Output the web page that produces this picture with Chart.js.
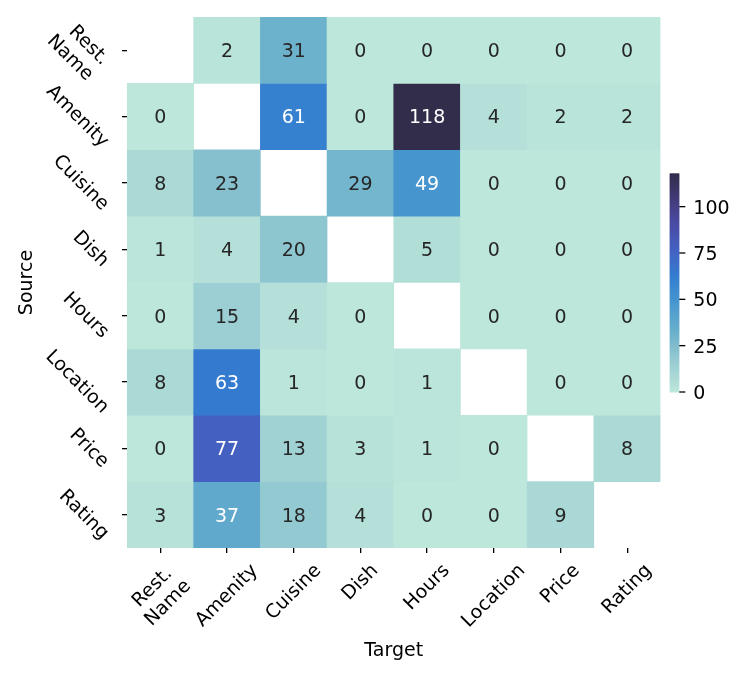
<!DOCTYPE html>
<html>
<head>
<meta charset="utf-8">
<script src="https://cdn.jsdelivr.net/npm/chart.js@4.4.1/dist/chart.umd.min.js"></script>
<style>
  html, body { margin: 0; padding: 0; background: #ffffff; }
  #wrap { width: 747px; height: 675px; }
</style>
</head>
<body>
<div id="wrap"><canvas id="c" width="747" height="675"></canvas></div>
<script>
// ---------------- DATA ----------------
const targets = ['Rest.\nName', 'Amenity', 'Cuisine', 'Dish', 'Hours', 'Location', 'Price', 'Rating'];
const sources = ['Rest.\nName', 'Amenity', 'Cuisine', 'Dish', 'Hours', 'Location', 'Price', 'Rating'];

const fromRestName = [null, 2, 31, 0, 0, 0, 0, 0];
const fromAmenity  = [0, null, 61, 0, 118, 4, 2, 2];
const fromCuisine  = [8, 23, null, 29, 49, 0, 0, 0];
const fromDish     = [1, 4, 20, null, 5, 0, 0, 0];
const fromHours    = [0, 15, 4, 0, null, 0, 0, 0];
const fromLocation = [8, 63, 1, 0, 1, null, 0, 0];
const fromPrice    = [0, 77, 13, 3, 1, 0, null, 8];
const fromRating   = [3, 37, 18, 4, 0, 0, 9, null];

const counts = [fromRestName, fromAmenity, fromCuisine, fromDish, fromHours, fromLocation, fromPrice, fromRating];

const colorbarTicks = [0, 25, 50, 75, 100];
const xTitle = 'Target';
const yTitle = 'Source';

// ---------------- STYLE ----------------
const FONT = '"DejaVu Sans", "Liberation Sans", sans-serif';
const FS = 19;
const vmin = 0;
const vmax = Math.max(...counts.flat().filter(v => v !== null));

// colormap stops (fraction of range -> rgb)
const CMAP = [
  [0.000, [189, 231, 219]],
  [0.068, [171, 217, 214]],
  [0.127, [156, 207, 211]],
  [0.169, [142, 198, 208]],
  [0.195, [134, 192, 206]],
  [0.263, [109, 178, 204]],
  [0.314, [96, 169, 205]],
  [0.415, [71, 149, 207]],
  [0.517, [54, 128, 208]],
  [0.534, [52, 123, 208]],
  [0.653, [68, 96, 193]],
  [0.763, [74, 76, 165]],
  [0.847, [70, 64, 135]],
  [0.932, [58, 52, 100]],
  [1.000, [49, 45, 75]]
];
function cmapRGB(v) {
  let t = (v - vmin) / (vmax - vmin);
  t = Math.max(0, Math.min(1, t));
  for (let k = 1; k < CMAP.length; k++) {
    if (t <= CMAP[k][0]) {
      const [t0, c0] = CMAP[k - 1], [t1, c1] = CMAP[k];
      const f = (t - t0) / (t1 - t0 || 1);
      return c0.map((c, i) => Math.round(c + (c1[i] - c) * f));
    }
  }
  return CMAP[CMAP.length - 1][1];
}
function cmap(v) { const c = cmapRGB(v); return `rgb(${c[0]},${c[1]},${c[2]})`; }
function luminance(rgb) {
  const lin = rgb.map(c => { c /= 255; return c <= 0.03928 ? c / 12.92 : Math.pow((c + 0.055) / 1.055, 2.4); });
  return 0.2126 * lin[0] + 0.7152 * lin[1] + 0.0722 * lin[2];
}

// ---------------- DATASETS ----------------
const datasets = counts.map((row, i) => ({
  label: sources[i].replace('\n', ' '),
  data: row.map(v => (v === null ? null : [i, i + 1])),
  backgroundColor: row.map(v => (v === null ? 'rgba(0,0,0,0)' : cmap(v))),
  borderWidth: 0,
  barPercentage: 1,
  categoryPercentage: 1,
  grouped: false
}));

// ---------------- LABEL HELPERS ----------------
function drawRotated(ctx, lines, angle, align, cx, cy, lh, widths, w) {
  ctx.save();
  ctx.translate(cx, cy);
  ctx.rotate(angle);
  ctx.textAlign = 'center';
  ctx.textBaseline = 'middle';
  const n = lines.length;
  lines.forEach((ln, k) => {
    const ly = (k - (n - 1) / 2) * lh;
    const lx = align === 'center' ? 0 : (w / 2 - widths[k] / 2);
    ctx.fillText(ln, lx, ly);
  });
  ctx.restore();
}
function measureBlock(ctx, lines, lh) {
  const widths = lines.map(l => ctx.measureText(l).width);
  const w = Math.max(...widths);
  const h = lines.length * lh;
  const c = Math.SQRT1_2;
  return { widths, w, h, W: (w + h) * c, H: (w + h) * c };
}

const heatmapPlugin = {
  id: 'heatmapDecor',
  afterDatasetsDraw(chart) {
    const { ctx, scales: { x, y } } = chart;
    ctx.save();
    ctx.font = `${FS}px ${FONT}`;
    ctx.textAlign = 'center';
    ctx.textBaseline = 'alphabetic';
    counts.forEach((row, i) => {
      row.forEach((v, j) => {
        if (v === null) return;
        const px = x.getPixelForValue(j);
        const py = y.getPixelForValue(i + 0.5);
        ctx.fillStyle = luminance(cmapRGB(v)) > 0.375 ? '#262626' : '#ffffff';
        ctx.fillText(String(v), px, py + 0.3645 * FS);
      });
    });
    ctx.restore();
  },
  afterDraw(chart) {
    const { ctx, chartArea, scales: { x, y } } = chart;
    const lh = 22;
    ctx.save();
    ctx.font = `${FS}px ${FONT}`;
    ctx.fillStyle = '#000000';

    // x tick labels (rotated 45° counter-clockwise, centred on tick)
    targets.forEach((lab, j) => {
      const lines = lab.split('\n');
      const m = measureBlock(ctx, lines, lh);
      const cx = x.getPixelForValue(j);
      const top = chartArea.bottom + 12;
      drawRotated(ctx, lines, -Math.PI / 4, 'center', cx, top + m.H / 2, lh, m.widths, m.w);
    });

    // y tick labels (rotated 45° clockwise, right aligned)
    sources.forEach((lab, i) => {
      const lines = lab.split('\n');
      const m = measureBlock(ctx, lines, lh);
      const cy = y.getPixelForValue(i + 0.5);
      const right = chartArea.left - 14;
      drawRotated(ctx, lines, Math.PI / 4, 'right', right - m.W / 2, cy, lh, m.widths, m.w);
    });

    // axis titles
    ctx.textAlign = 'center';
    ctx.textBaseline = 'alphabetic';
    ctx.fillText(xTitle, (chartArea.left + chartArea.right) / 2, 656);
    ctx.save();
    ctx.translate(31.5, (chartArea.top + chartArea.bottom) / 2);
    ctx.rotate(-Math.PI / 2);
    ctx.fillText(yTitle, 0, 0);
    ctx.restore();

    // colorbar
    const cbL = 669.7, cbR = 679.3, cbBottom = 392, cbTop = 173.3;
    const valToY = v => cbBottom - (v - vmin) / (vmax - vmin) * (cbBottom - cbTop);
    for (let py = Math.floor(cbTop); py < cbBottom; py += 1) {
      const y0 = Math.max(py, cbTop), y1 = Math.min(py + 1, cbBottom);
      const v = vmin + (cbBottom - (y0 + y1) / 2) / (cbBottom - cbTop) * (vmax - vmin);
      ctx.fillStyle = cmap(v);
      ctx.fillRect(cbL, y0, cbR - cbL, y1 - y0 + 0.5);
    }
    ctx.strokeStyle = '#000000';
    ctx.lineWidth = 1.3;
    ctx.fillStyle = '#000000';
    ctx.textAlign = 'left';
    colorbarTicks.forEach(t => {
      const ty = valToY(t);
      ctx.beginPath();
      ctx.moveTo(cbR, ty);
      ctx.lineTo(cbR + 6, ty);
      ctx.stroke();
      ctx.fillText(String(t), cbR + 14, ty + 0.3645 * FS);
    });
    ctx.restore();
  }
};

new Chart(document.getElementById('c'), {
  type: 'bar',
  data: { labels: targets.map(t => t.replace('\n', ' ')), datasets },
  options: {
    responsive: false,
    animation: false,
    events: [],
    layout: { padding: { top: 17, right: 86.5, left: 0, bottom: 0 } },
    plugins: { legend: { display: false }, tooltip: { enabled: false }, title: { display: false } },
    scales: {
      x: {
        type: 'category',
        offset: true,
        border: { display: false },
        grid: { display: true, offset: false, drawOnChartArea: false, drawTicks: true, tickLength: 5, color: '#000000', lineWidth: 1.3 },
        ticks: { display: false },
        afterFit(s) { s.height = 127; }
      },
      y: {
        type: 'linear',
        min: 0,
        max: sources.length,
        reverse: true,
        border: { display: false },
        grid: { display: true, drawOnChartArea: false, drawTicks: true, tickLength: 5, color: '#000000', lineWidth: 1.3 },
        ticks: { display: false },
        afterBuildTicks(s) { s.ticks = sources.map((_, i) => ({ value: i + 0.5 })); },
        afterFit(s) { s.width = 127; }
      }
    }
  },
  plugins: [heatmapPlugin]
});
</script>
</body>
</html>
